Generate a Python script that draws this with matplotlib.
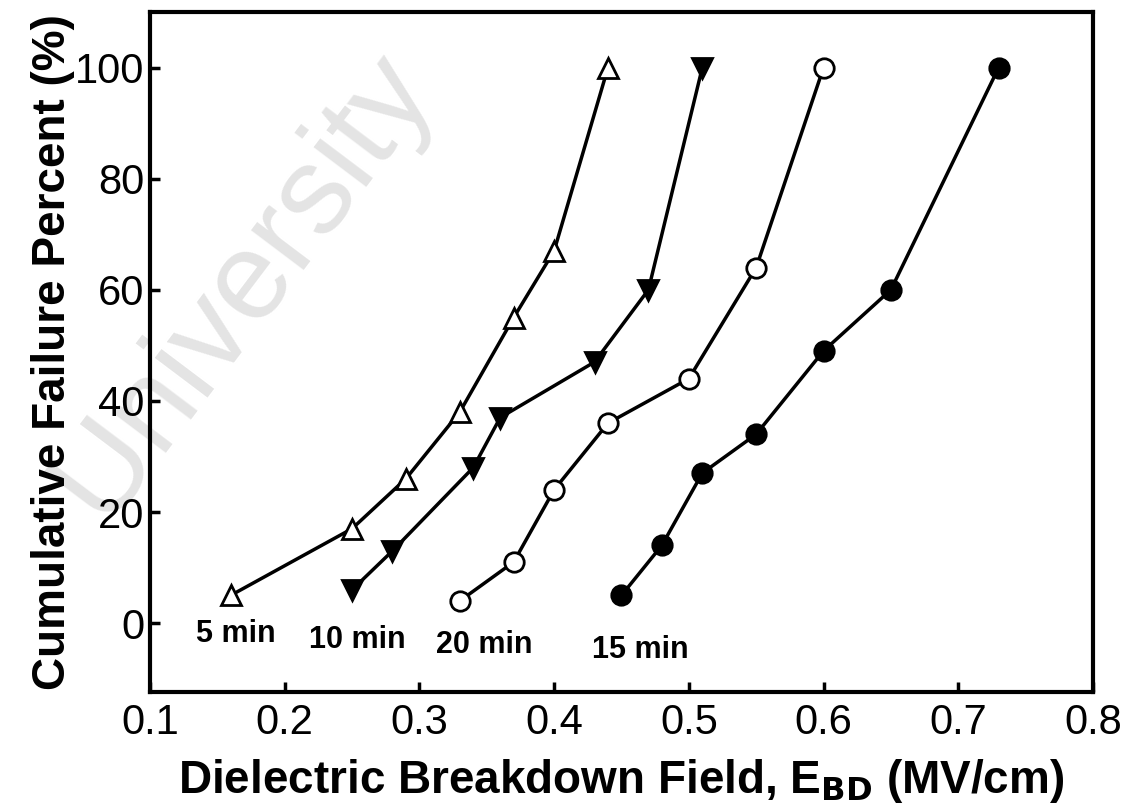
import matplotlib
matplotlib.use("Agg")
import matplotlib.pyplot as plt

plt.rcParams['font.family'] = ['Liberation Sans', 'DejaVu Sans']

# breakdown field (MV/cm) and cumulative failure (%) per etch time
x_5min = [0.16, 0.25, 0.29, 0.33, 0.37, 0.40, 0.44]
y_5min = [5, 17, 26, 38, 55, 67, 100]
x_10min = [0.25, 0.28, 0.34, 0.36, 0.43, 0.47, 0.51]
y_10min = [6, 13, 28, 37, 47, 60, 100]
x_20min = [0.33, 0.37, 0.40, 0.44, 0.50, 0.55, 0.60]
y_20min = [4, 11, 24, 36, 44, 64, 100]
x_15min = [0.45, 0.48, 0.51, 0.55, 0.60, 0.65, 0.73]
y_15min = [5, 14, 27, 34, 49, 60, 100]

labels = ['5 min', '10 min', '20 min', '15 min']
label_x = [0.164, 0.254, 0.348, 0.464]
label_y = [-2.0, -3.0, -4.0, -4.9]

xticks = [0.1, 0.2, 0.3, 0.4, 0.5, 0.6, 0.7, 0.8]
yticks = [0, 20, 40, 60, 80, 100]

fig = plt.figure(figsize=(11.31, 8.09), dpi=100, facecolor='white')
ax = fig.add_axes([0.1326, 0.1446, 0.8338, 0.8406])
ax.patch.set_alpha(0)

# faint watermark underneath everything else
fig.text(0.215, 0.648, 'University', fontsize=90, color='#e4e4e4',
         rotation=53, ha='center', va='center', zorder=-1)

kw = dict(color='black', lw=2.5, markeredgewidth=2, markeredgecolor='black')
ax.plot(x_5min, y_5min, marker='^', ms=15, mfc='white', **kw)
ax.plot(x_10min, y_10min, marker='v', ms=15, mfc='black', **kw)
ax.plot(x_20min, y_20min, marker='o', ms=14, mfc='white', **kw)
ax.plot(x_15min, y_15min, marker='o', ms=14, mfc='black', **kw)

for t, lx, ly in zip(labels, label_x, label_y):
    ax.text(lx, ly, t, fontsize=22, fontweight='bold', ha='center', va='center')

ax.set_xlim(0.1, 0.8)
ax.set_ylim(-12.4, 110)
ax.set_xticks(xticks)
ax.set_xticklabels([f'{v:.1f}' for v in xticks])
ax.set_yticks(yticks)
ax.tick_params(direction='in', length=7, width=2.5, labelsize=30)
ax.tick_params(axis='x', pad=8)
ax.tick_params(axis='y', pad=4)
for s in ax.spines.values():
    s.set_linewidth(3)

ax.set_xlabel(r'Dielectric Breakdown Field, E$_{\mathbf{BD}}$ (MV/cm)',
              fontsize=33, fontweight='bold', labelpad=10)
ax.set_ylabel('Cumulative Failure Percent (%)', fontsize=33, fontweight='bold', labelpad=0)

fig.savefig('out.png', dpi=100)
